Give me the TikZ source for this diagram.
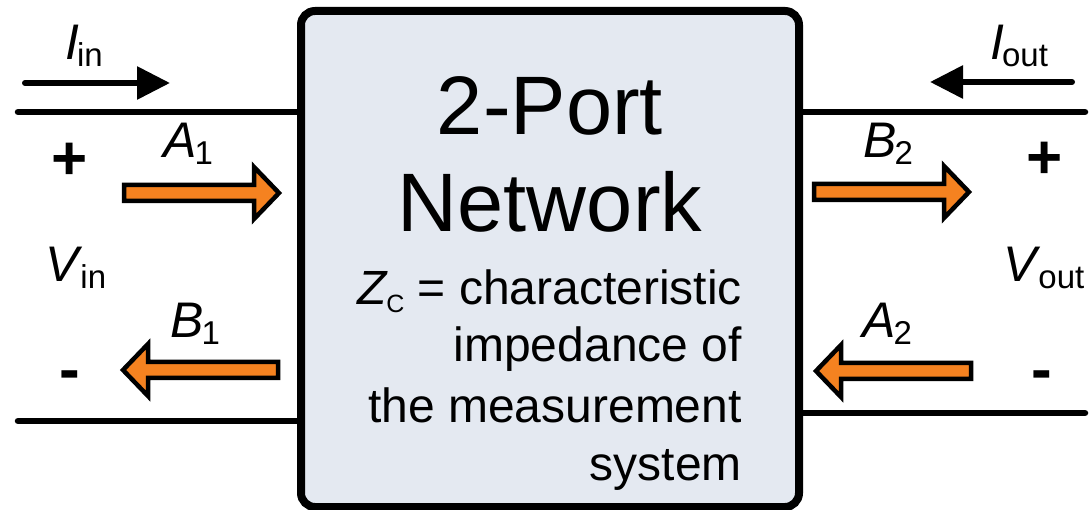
\documentclass[tikz,border=0pt]{standalone}
\usepackage{fontspec}
\setmainfont{Liberation Sans}
\usetikzlibrary{arrows.meta}
\definecolor{boxfill}{HTML}{E4E9F1}
\definecolor{orng}{HTML}{F58220}
\newcommand{\lsub}[2][33]{\kern-2pt\raisebox{-7pt}{\fontsize{#1}{#1}\selectfont #2}}
\begin{document}
\begin{tikzpicture}[x=1pt,y=-1pt,
  wire/.style={line width=6.5pt, line cap=round},
  iarrow/.style={line width=6pt, line cap=round, -{Triangle[length=33pt,width=32pt]}},
  oarrow/.style={draw=black, fill=orng, line width=4.5pt, line join=miter},
  lbl/.style={font=\fontsize{50}{60}\selectfont, anchor=base west, inner sep=0pt},
  big/.style={font=\fontsize{83}{100}\selectfont, anchor=base, inner sep=0pt},
  desc/.style={font=\fontsize{48}{58}\selectfont, anchor=base east, inner sep=0pt},
  sign/.style={font=\bfseries\fontsize{62}{70}\selectfont, anchor=base, inner sep=0pt},
  rarrow/.pic={\draw[oarrow] (0,-8) -- (130,-8) -- (130,-26) -- (155,0) -- (130,26) -- (130,8) -- (0,8) -- cycle;},
  larrow/.pic={\draw[oarrow] (0,-8) -- (-130,-8) -- (-130,-26) -- (-155,0) -- (-130,26) -- (-130,8) -- (0,8) -- cycle;}
]
\useasboundingbox (0,0) rectangle (1090,510);

% the network box
\node[draw, line width=8pt, fill=boxfill, rounded corners=14pt,
      minimum width=498pt, minimum height=496pt, inner sep=0pt] (box) at (550,259) {};

% wires
\coordinate (wl1) at (18,112);
\coordinate (wl2) at (18,421);
\coordinate (wr1) at (1085,112);
\coordinate (wr2) at (1085,413);
\draw[wire] (wl1) -- (wl1 -| box.west);
\draw[wire] (wl2) -- (wl2 -| box.west);
\draw[wire] (wr1) -- (wr1 -| box.east);
\draw[wire] (wr2) -- (wr2 -| box.east);

% current arrows
\coordinate (iinA) at (25,83);
\coordinate (iinB) at (170,83);
\coordinate (ioutA) at (1072,82);
\coordinate (ioutB) at (930,82);
\draw[iarrow] (iinA) -- (iinB);
\draw[iarrow] (ioutA) -- (ioutB);

% wave arrows
\pic at (124,193) {rarrow};
\pic at (814,192) {rarrow};
\pic at (278,370) {larrow};
\pic at (971,371) {larrow};

% box text
\node[big] (t1) at (550,135) {2-Port};
\node[big] (t2) at (550,232) {Network};
\node[desc] (d1) at (742,305) {\textit{Z}\kern-2pt\raisebox{-8pt}{\fontsize{25}{25}\selectfont C} = characteristic};
\node[desc] (d2) at (742,362) {impedance of};
\node[desc] (d3) at (742,423) {the measurement};
\node[desc] (d4) at (742,480) {system};

% labels
\node[lbl] (lIin) at (65,60) {\textit{I}\lsub{in}};
\node[lbl] (lIout) at (990,60) {\textit{I}\lsub{out}};
\node[lbl] (lA1) at (163,158) {\textit{A}\lsub{1}};
\node[lbl] (lB2) at (863,158) {\textit{B}\lsub{2}};
\node[lbl] (lB1) at (170,338) {\textit{B}\lsub{1}};
\node[lbl] (lA2) at (862,338) {\textit{A}\lsub{2}};
\node[lbl] (lVin) at (45,282) {\textit{V}\lsub{in}};
\node[lbl] (lVout) at (1003,282) {\textit{V}\lsub{out}};

% polarity signs
\node[sign] (pl) at (70,180) {+};
\node[sign] (pr) at (1045,179) {+};
\node[sign] (ml) at (70,391) {-};
\node[sign] (mr) at (1042,391) {-};
\end{tikzpicture}
\end{document}
